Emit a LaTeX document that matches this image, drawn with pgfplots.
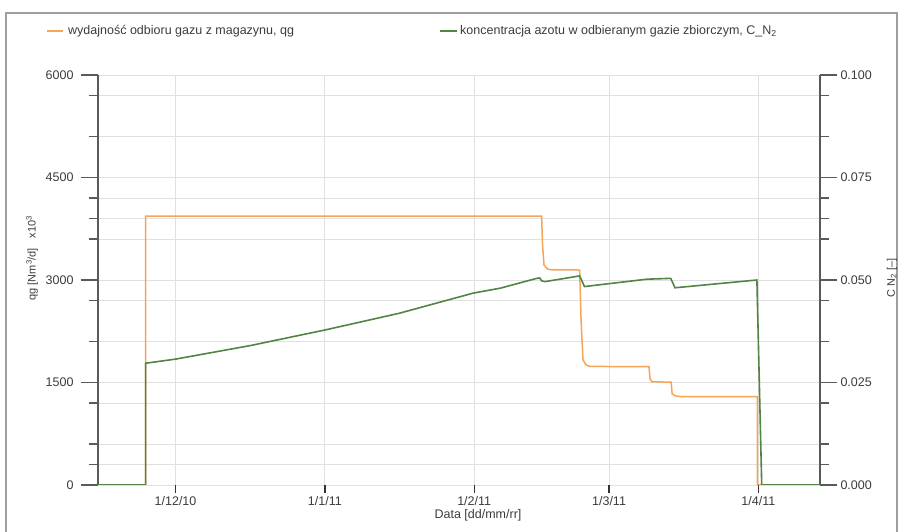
\documentclass[border=0pt]{standalone}
\usepackage{fontspec}
\setmainfont{Liberation Sans}
\usepackage{pgfplots}
\pgfplotsset{compat=1.18}

\definecolor{orng}{RGB}{246,164,88}
\definecolor{grn}{RGB}{84,132,68}
\definecolor{gridc}{RGB}{224,224,224}
\definecolor{axc}{RGB}{90,90,90}
\definecolor{txt}{RGB}{60,60,60}

\newcommand{\fs}{\fontsize{12.5}{14}\selectfont}

\begin{document}
\begin{tikzpicture}[x=1pt,y=1pt]
\useasboundingbox (0,0) rectangle (900,532);
\fill[white] (0,0) rectangle (900,532);
\draw[gray!75, line width=1.6pt] (6,0) -- (6,519) -- (897,519) -- (897,0);

% legend
\draw[orng, line width=1.6pt] (47,501) -- (63,501);
\node[anchor=west, inner sep=0pt, text=txt, font=\fs] at (68,501) {wydajność odbioru gazu z magazynu, qg};
\draw[grn, line width=1.6pt] (440,501) -- (457,501);
\node[anchor=west, inner sep=0pt, text=txt, font=\fs] at (460,501) {koncentracja azotu w odbieranym gazie zbiorczym, C\_N\textsubscript{2}};

% axis labels
\node[rotate=90, text=txt, font=\fontsize{11}{13}\selectfont] at (32,274) {qg [Nm\textsuperscript{3}/d]\hspace{0.9em}x10\textsuperscript{3}};
\node[rotate=90, text=txt, font=\fontsize{11}{13}\selectfont] at (892,254) {C N\textsubscript{2} [–]};
\node[text=txt, font=\fs] at (478,17) {Data [dd/mm/rr]};

% left axis with grid and qg
\begin{axis}[
  at={(98pt,47pt)}, anchor=south west,
  scale only axis, width=722pt, height=410pt,
  xmin=-16.1, xmax=133.8, ymin=0, ymax=6000,
  axis x line*=bottom, axis y line*=left,
  x axis line style={draw=none},
  y axis line style={axc, line width=1.3pt, -},
  xtick={0,31,62,90,121}, xticklabels={},
  xtick style={draw=none},
  ytick={0,1500,3000,4500,6000},
  yticklabels={0,1500,3000,4500,6000},
  minor ytick={300,600,1200,2100,2700,3600,3900,4200,5100,5700},
  ytick style={axc, line width=1.3pt},
  tick align=outside,
  major tick length=17pt, minor tick length=9pt,
  xmajorgrids, ymajorgrids, yminorgrids,
  major grid style={gridc, line width=0.9pt},
  minor grid style={gridc, line width=0.9pt},
  yticklabel style={text=txt, font=\fs, xshift=-4pt},
]
\addplot[orng, line width=1.5pt] coordinates {
(-16.1,0) (-6.2,0) (-6.2,3935) (76.0,3935) (76.2,3500) (76.5,3220) (77.2,3160) (78,3150) (83.9,3146)
(84.2,2400) (84.6,1830) (85.2,1760) (86.0,1735) (98.3,1732) (98.5,1560) (98.9,1510) (102.9,1505)
(103.1,1330) (104,1300) (105.1,1293) (120.8,1293) (120.8,0) (133.8,0)
};
\end{axis}

% right axis with C_N2
\begin{axis}[
  at={(98pt,47pt)}, anchor=south west,
  scale only axis, width=722pt, height=410pt,
  xmin=-16.1, xmax=133.8, ymin=0, ymax=0.1,
  hide x axis,
  axis y line*=right,
  y axis line style={axc, line width=1.3pt, -},
  ytick={0,0.025,0.05,0.075,0.1},
  yticklabels={0.000,0.025,0.050,0.075,0.100},
  minor ytick={0.005,0.01,0.02,0.035,0.045,0.06,0.065,0.07,0.085,0.095},
  ytick style={axc, line width=1.3pt},
  tick align=outside,
  major tick length=17pt, minor tick length=9pt,
  yticklabel style={text=txt, font=\fs},
]
\addplot[grn, line width=1.6pt] coordinates {
(-16.1,0) (-6.2,0) (-6.2,0.0297) (0,0.0307) (15.5,0.0340) (31,0.0378) (46.5,0.0419) (61.8,0.0468)
(67.4,0.0480) (75.0,0.0504) (75.6,0.0505) (76.0,0.0498) (76.7,0.0496) (83.9,0.0510) (84.9,0.0484)
(97.9,0.0502) (102.8,0.0504) (103.7,0.0481) (120.7,0.0500) (121.7,0) (133.8,0)
};
\end{axis}

% x ticks and labels
\begin{axis}[
  at={(98pt,47pt)}, anchor=south west,
  scale only axis, width=722pt, height=410pt,
  xmin=-16.1, xmax=133.8, ymin=0, ymax=1,
  hide y axis,
  axis x line*=bottom,
  x axis line style={draw=none},
  xtick={0,31,62,90,121},
  xticklabels={1/12/10,1/1/11,1/2/11,1/3/11,1/4/11},
  xtick style={black!80, line width=1.3pt},
  tick align=outside, major tick length=8pt,
  xticklabel style={text=txt, font=\fs},
]
\end{axis}
\end{tikzpicture}
\end{document}
